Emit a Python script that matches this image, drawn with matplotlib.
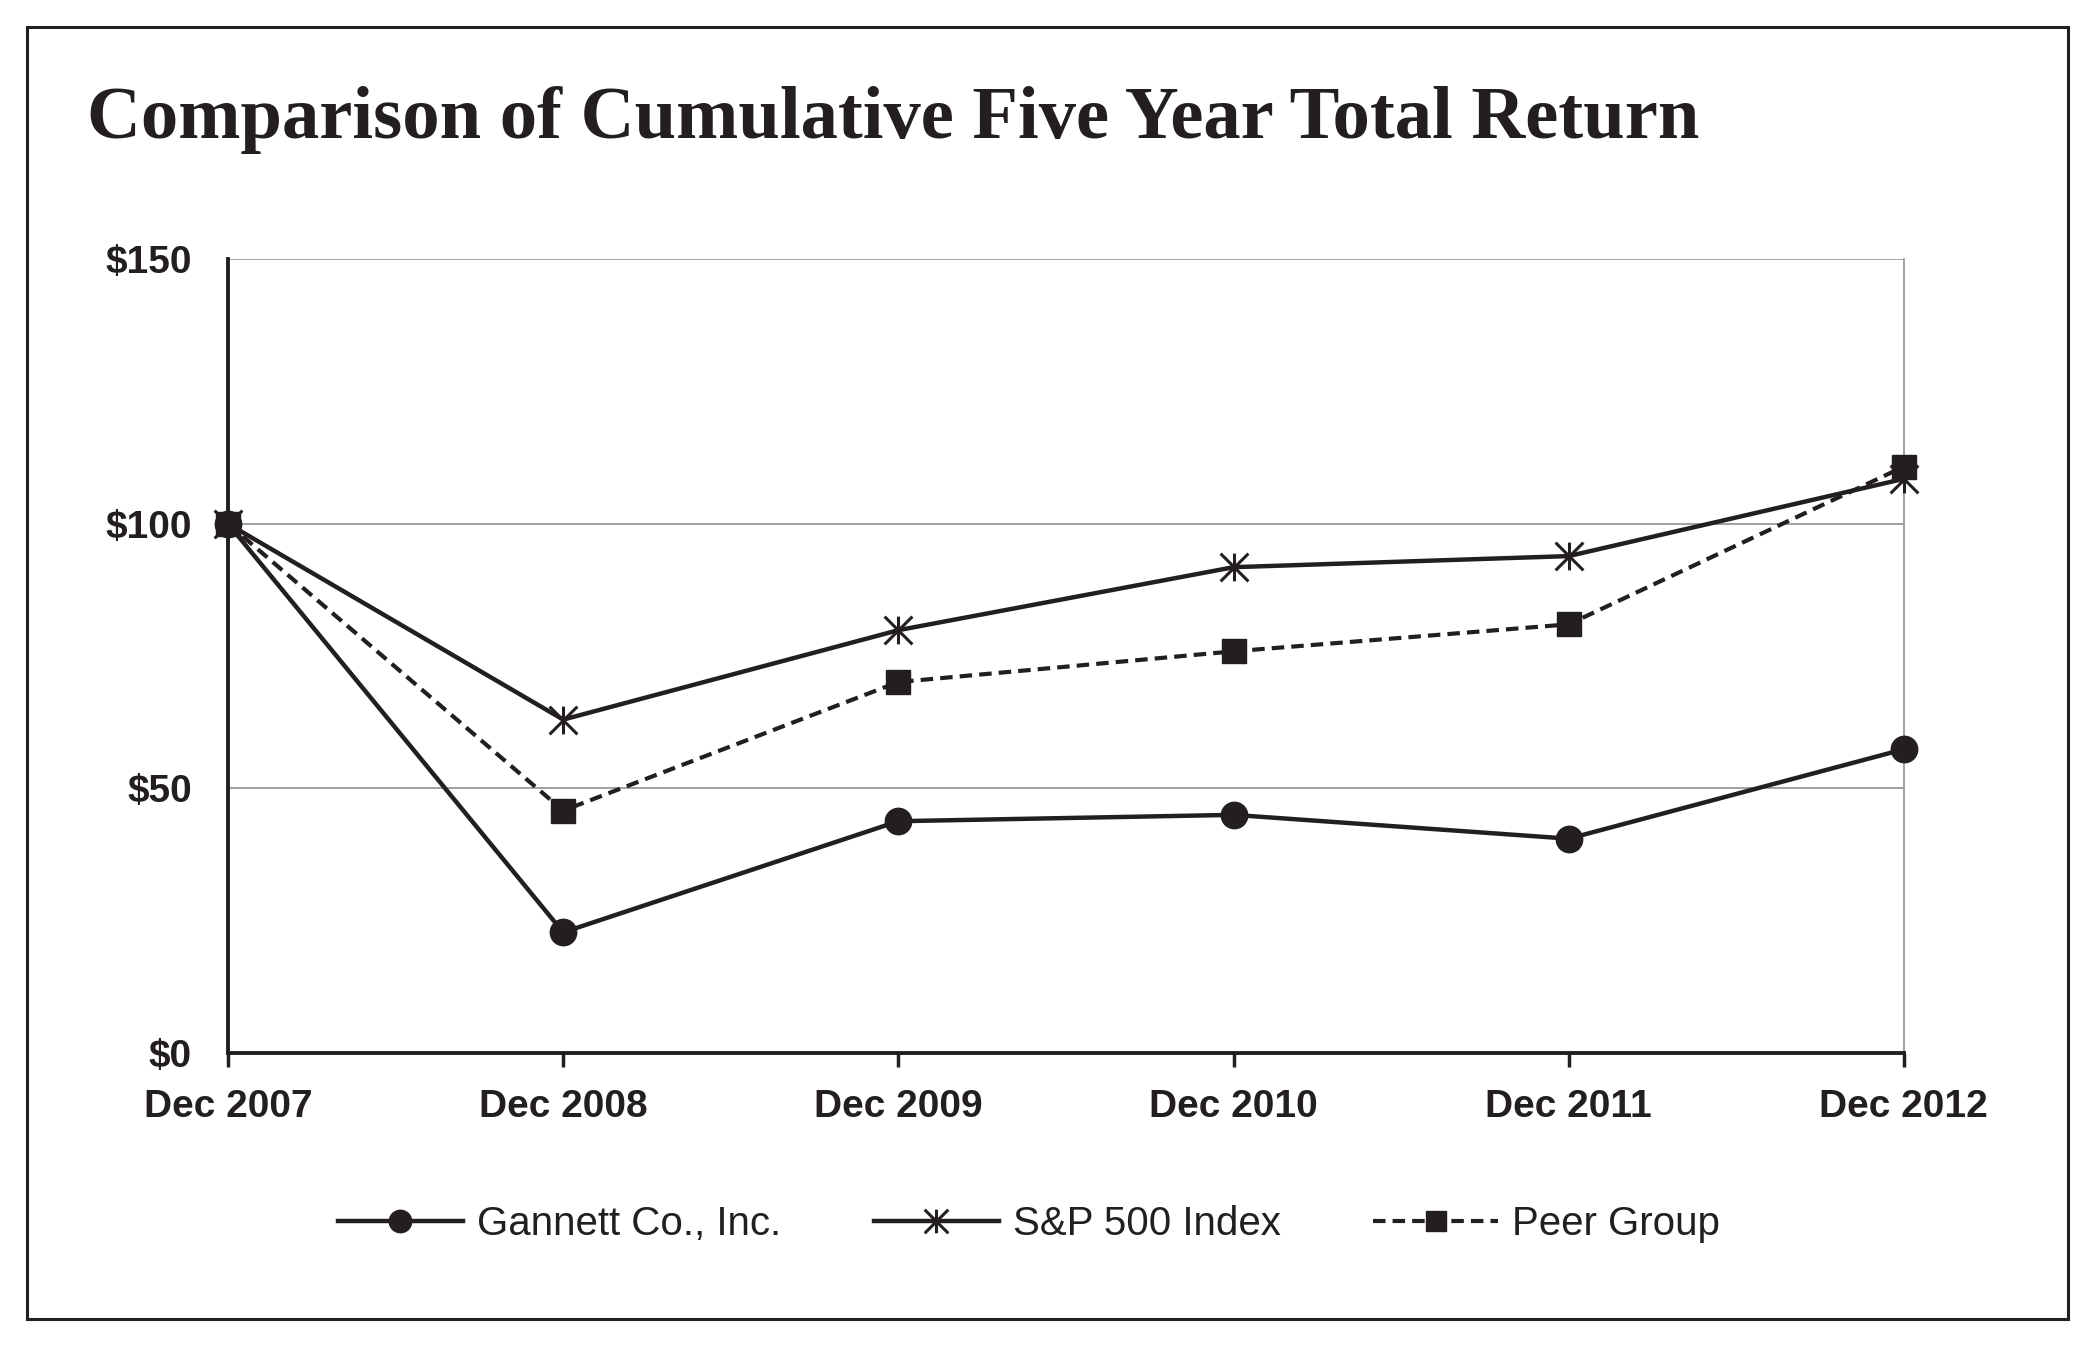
"""Cumulative five year total return chart."""
import matplotlib
matplotlib.use("Agg")
import matplotlib.pyplot as plt
from matplotlib.path import Path
from matplotlib.patches import Rectangle

years = ["Dec 2007", "Dec 2008", "Dec 2009", "Dec 2010", "Dec 2011", "Dec 2012"]
gannett = [100, 22.8, 43.8, 45.0, 40.5, 57.4]
sp500 = [100, 63.0, 79.9, 91.8, 93.9, 108.5]
peer = [100, 45.8, 70.1, 75.9, 81.0, 110.8]
y_ticks = [0, 50, 100, 150]

INK = "#231f20"
GRID = "#9a9a9a"

# asterisk like the Excel "star" marker: X with a vertical bar
star = Path(
    [(-0.5, -0.5), (0.5, 0.5), (-0.5, 0.5), (0.5, -0.5), (0, -0.5), (0, 0.5)],
    [Path.MOVETO, Path.LINETO, Path.MOVETO, Path.LINETO, Path.MOVETO, Path.LINETO],
)

plt.rcParams["font.family"] = ["Liberation Sans", "DejaVu Sans"]

fig = plt.figure(figsize=(21, 13.5), dpi=100)
ax = fig.add_axes([0.1086, 0.22, 0.798, 0.588])

x = list(range(len(years)))
ax.plot(x, gannett, color=INK, lw=3.2, marker="o", ms=19, label="Gannett Co., Inc.",
        clip_on=False, zorder=3)
ax.plot(x, sp500, color=INK, lw=3.2, marker=star, ms=20, mew=2.2, mfc="none", mec=INK,
        label="S&P 500 Index", clip_on=False, zorder=3)
ax.plot(x, peer, color=INK, lw=3.0, ls=(0, (3.0, 1.7)), marker="s", ms=17,
        label="Peer Group", clip_on=False, zorder=4)

ax.set_xlim(0, len(years) - 1)
ax.set_ylim(0, 150)
ax.set_xticks(x)
ax.set_xticklabels(years, fontsize=28, fontweight="bold", color=INK)
ax.set_yticks(y_ticks)
ax.set_yticklabels([f"${v}" for v in y_ticks], fontsize=28, fontweight="bold", color=INK)
ax.tick_params(axis="x", length=10, width=2.5, color=INK, pad=16)
ax.tick_params(axis="y", length=0, pad=26)

ax.yaxis.grid(True, color=GRID, lw=1.3)
ax.set_axisbelow(True)
ax.spines["top"].set_visible(False)
ax.spines["right"].set_color(GRID)
ax.spines["right"].set_linewidth(1.3)
for side in ("left", "bottom"):
    ax.spines[side].set_color(INK)
    ax.spines[side].set_linewidth(2.8)

fig.text(0.0414, 0.898, "Comparison of Cumulative Five Year Total Return",
         family="Liberation Serif", fontweight="bold", fontsize=53.7, color=INK,
         ha="left", va="baseline")

leg = fig.legend(loc="center", bbox_to_anchor=(0.49, 0.093), ncol=3, frameon=False,
                 fontsize=29, handlelength=3.1, handletextpad=0.35, columnspacing=2.3,
                 markerscale=0.85)
for t in leg.get_texts():
    t.set_color(INK)

fig.patches.append(Rectangle((0.0129, 0.023), 0.972, 0.957, transform=fig.transFigure,
                             fill=False, ec=INK, lw=2.2))

fig.savefig("out.png", dpi=100)
